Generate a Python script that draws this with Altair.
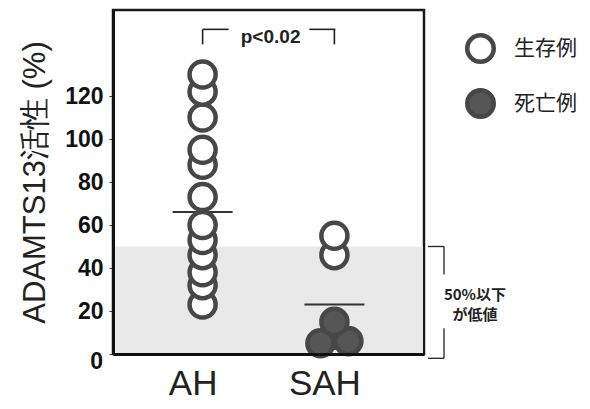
import altair as alt
import pandas as pd

# --- data -------------------------------------------------------------
groups = ["AH", "SAH"]
outcomes = ["生存例", "死亡例"]

# ADAMTS13 activity (%) for each patient
ah_alive = [23, 32, 38, 46, 53, 60, 73, 88, 95, 110, 122, 130]
sah_alive = [46, 55]
sah_dead = [9, 5, 6, 15]
sah_dead_jitter = [0, -14, 14, 0]

group_means = [66, 23]
low_cutoff = 50
p_text = "p<0.02"
low_text = ["50%以下", "が低値"]
y_tick_values = [0, 20, 40, 60, 80, 100, 120]

# --- tables -----------------------------------------------------------
rows = []
for v in sorted(ah_alive):
    rows.append({"group": "AH", "value": v, "outcome": outcomes[0], "jitter": 0})
for v in sorted(sah_alive):
    rows.append({"group": "SAH", "value": v, "outcome": outcomes[0], "jitter": 0})
for v, j in zip(sah_dead, sah_dead_jitter):
    rows.append({"group": "SAH", "value": v, "outcome": outcomes[1], "jitter": j})
points = pd.DataFrame(rows)
points["order"] = range(len(points))

means = pd.DataFrame({"group": groups, "mean": group_means})
band = pd.DataFrame({"lo": [0], "hi": [low_cutoff]})

W, H = 311, 344
SANS = "Liberation Sans, Arial, sans-serif"
CJK = "Noto Sans CJK JP, sans-serif"
INK = "#474747"

x_scale = alt.Scale(type="point", domain=groups, padding=0.68)
y_scale = alt.Scale(domain=[0, 160], nice=False, zero=True)

x_axis = alt.Axis(
    title=None, ticks=False, domain=True, domainWidth=3, domainColor="#111",
    labelFont=SANS, labelFontSize=35, labelColor="#222", labelPadding=12,
    labelOffset=-10, labelAngle=0, grid=False, zindex=1,
)
y_axis = alt.Axis(
    title="ADAMTS13活性 (%)", titleFont=SANS, titleFontSize=31,
    titleFontWeight="normal", titleColor="#222", titlePadding=13,
    values=y_tick_values, labelExpr="datum.value == 0 ? '' : datum.label",
    labelFont=SANS, labelFontSize=23, labelFontWeight="bold",
    labelColor="#111", labelPadding=6, tickSize=4, tickColor="#333",
    domainWidth=3, domainColor="#111", grid=False, zindex=1,
)

# shaded region for activity at or below the cutoff
shade = alt.Chart(band).mark_rect(color="#e9e9e9").encode(
    x=alt.value(1), x2=alt.value(W - 1),
    y=alt.Y("hi:Q", scale=y_scale, axis=y_axis), y2="lo:Q",
)

# group mean bars
mean_ticks = alt.Chart(means).mark_tick(
    orient="horizontal", size=60, thickness=2, color="#333", opacity=1
).encode(
    x=alt.X("group:N", scale=x_scale, axis=x_axis),
    y=alt.Y("mean:Q", scale=y_scale, axis=y_axis),
)

# patients
dots = alt.Chart(points).mark_point(
    filled=True, size=680, strokeWidth=4.5, stroke=INK, opacity=1
).encode(
    x=alt.X("group:N", scale=x_scale, axis=x_axis),
    xOffset=alt.XOffset("jitter:Q", scale=None),
    y=alt.Y("value:Q", scale=y_scale, axis=y_axis),
    fill=alt.Fill(
        "outcome:N",
        scale=alt.Scale(domain=outcomes, range=["white", "#565656"]),
        legend=alt.Legend(
            title=None, orient="none", legendX=352, legendY=23, padding=0,
            symbolType="circle", symbolSize=700, symbolStrokeWidth=4.5,
            symbolStrokeColor=INK, symbolOpacity=1,
            labelFont=CJK, labelFontSize=21, labelColor="#222",
            labelOffset=18, rowPadding=10,
        ),
    ),
    order="order:Q",
)

# "0" label sits a little below the axis line
zero_label = alt.Chart(pd.DataFrame({"v": [0]})).mark_text(
    text="0", align="right", baseline="middle", dx=-10, dy=8,
    font=SANS, fontSize=23, fontWeight="bold", color="#111",
).encode(x=alt.value(0), y=alt.Y("v:Q", scale=y_scale, axis=y_axis))

# significance bracket
br_df = pd.DataFrame({"group": groups, "top": [151, 151], "bot": [144, 144]})
br_vert = alt.Chart(br_df).mark_rule(strokeWidth=1.6, color="#222").encode(
    x=alt.X("group:N", scale=x_scale, axis=x_axis),
    y=alt.Y("top:Q", scale=y_scale, axis=y_axis), y2="bot:Q",
)
br_left = alt.Chart(br_df).transform_filter("datum.group == 'AH'").mark_tick(
    orient="horizontal", size=26, thickness=1.6, color="#222", xOffset=13, opacity=1
).encode(x=alt.X("group:N", scale=x_scale, axis=x_axis),
         y=alt.Y("top:Q", scale=y_scale, axis=y_axis))
br_right = alt.Chart(br_df).transform_filter("datum.group == 'SAH'").mark_tick(
    orient="horizontal", size=26, thickness=1.6, color="#222", xOffset=-12, opacity=1
).encode(x=alt.X("group:N", scale=x_scale, axis=x_axis),
         y=alt.Y("top:Q", scale=y_scale, axis=y_axis))
p_label = alt.Chart(br_df).transform_filter("datum.group == 'AH'").mark_text(
    text=p_text, font=SANS, fontSize=19, fontWeight="bold", color="#222",
    baseline="middle", align="center", xOffset=68,
).encode(x=alt.X("group:N", scale=x_scale, axis=x_axis),
         y=alt.datum(147.5))

# bracket marking the low-activity range, outside the frame
rule_style = dict(strokeWidth=1.3, color="#222")
low_top = alt.Chart(band).mark_rule(**rule_style).encode(
    x=alt.value(331), y=alt.Y("hi:Q", scale=y_scale, axis=y_axis), y2=alt.datum(37))
low_bot = alt.Chart(band).mark_rule(**rule_style).encode(
    x=alt.value(331), y=alt.datum(12), y2=alt.datum(-2))
low_cap_top = alt.Chart(band).mark_rule(**rule_style).encode(
    x=alt.value(315), x2=alt.value(331), y=alt.Y("hi:Q", scale=y_scale, axis=y_axis))
low_cap_bot = alt.Chart(band).mark_rule(**rule_style).encode(
    x=alt.value(315), x2=alt.value(331), y=alt.datum(-2))
low_lbl = alt.Chart(pd.DataFrame({"t": low_text, "yy": [27.5, 18]})).mark_text(
    font=CJK, fontSize=15, fontWeight="bold", color="#222",
    align="center", baseline="middle",
).encode(x=alt.value(362), y=alt.Y("yy:Q", scale=y_scale, axis=y_axis), text="t:N")

chart = alt.layer(
    shade, mean_ticks, dots, zero_label, br_vert, br_left, br_right, p_label,
    low_top, low_bot, low_cap_top, low_cap_bot, low_lbl,
).properties(
    width=W, height=H,
    autosize=alt.AutoSizeParams(type="none"),
    padding={"left": 113, "top": 10, "right": 166, "bottom": 55},
    background="white",
).configure_view(stroke="#1a1a1a", strokeWidth=2.5)

chart.save("out.html", embed_options={"renderer": "svg", "actions": False})
